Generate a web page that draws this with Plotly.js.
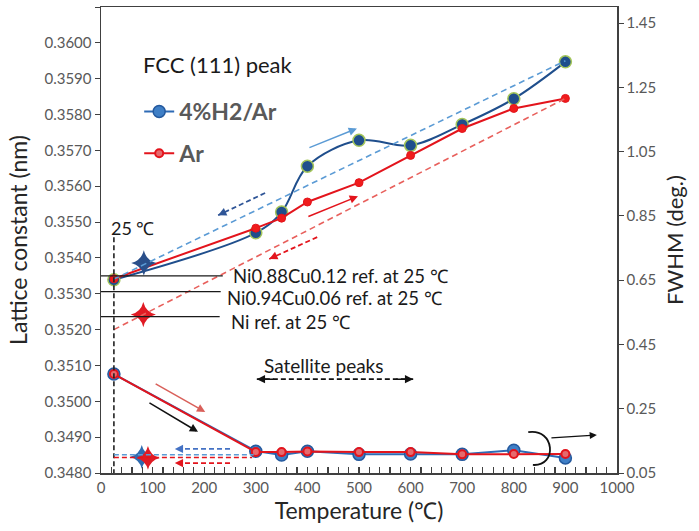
<!DOCTYPE html>
<html>
<head>
<meta charset="utf-8">
<script src="https://cdn.plot.ly/plotly-3.0.1.min.js"></script>
<style>html,body{margin:0;padding:0;background:#fff;}#chart{width:699px;height:531px;}</style>
</head>
<body>
<div id="chart"></div>
<script>
// ---- data ----
const temps = [25, 300, 350, 400, 500, 600, 700, 800, 900];
const latticeH2 = [0.35339, 0.35470, 0.35528, 0.35656, 0.35728, 0.35714, 0.35772, 0.35844, 0.35947];
const latticeAr = [0.35342, 0.35483, 0.35511, 0.35556, 0.35610, 0.35686, 0.35761, 0.35817, 0.35845];
const fwhmH2 = [0.358, 0.118, 0.106, 0.118, 0.108, 0.109, 0.108, 0.121, 0.097];
const fwhmAr = [0.358, 0.115, 0.115, 0.117, 0.115, 0.115, 0.108, 0.109, 0.109];

// reference lattice constants at 25 C
const refLabels = ["Ni0.88Cu0.12 ref. at 25 \u2103", "Ni0.94Cu0.06 ref. at 25 \u2103", "Ni ref. at 25 \u2103"];
const refValues = [0.35350, 0.35306, 0.35236];
const refLineEnd = [236, 232, 230];
const refTextX = [252, 240, 248];
const refTextY = [0.35350, 0.35289, 0.35222];

// star markers (lattice, left axis; FWHM, right axis)
const starLatX = [83, 82];
const starLatY = [0.35386, 0.35242];
const starFwX = [79, 91];
const starFwY = [0.100, 0.097];

// dashed trend lines (lattice): [x0, y0, x1, y1]
const trendH2 = [25, 0.35341, 900, 0.3595];
const trendAr = [25, 0.3520, 900, 0.35845];

// arrows: [tailX, tailY, headX, headY]
const arrH2Up = [401, 0.35706, 496, 0.35761];
const arrArUp = [399, 0.35514, 498, 0.35572];
const arrH2Down = [318, 0.35581, 227, 0.35519];
const arrArDown = [419, 0.35458, 326, 0.35397];
const arrFwRed = [103, 0.330, 202, 0.240];
const arrFwBlack = [91, 0.271, 188, 0.178];
const arrFwBlueBack = [250, 0.125, 143, 0.125];
const arrFwRedBack = [250, 0.081, 143, 0.081];
const lineFwBlue = [25, 0.107, 296, 0.107];
const lineFwRed = [25, 0.098, 293, 0.098];
const satArrow = [302, 0.342, 605, 0.342];
const satText = [432, 0.385];
const axisArrow = [870, 0.159, 961, 0.168];
const arcPts = [[828, 0.177], [880, 0.19], [885, 0.07], [837, 0.075]];
const vLine25 = [25, 0.35458, 25, 0.3480];
const label25 = [15, 0.35483];
const fccLabel = [77, 0.35939];

// ---- styles ----
const FONT = 'Lato, "Open Sans", Arial, sans-serif';
const traces = [
  {x: temps, y: fwhmH2, yaxis: 'y2', type: 'scatter', mode: 'lines+markers', name: '4%H2/Ar',
   legendgroup: 'a', line: {color: '#2e6bb5', width: 2},
   marker: {size: 12, color: '#3f7fc6', line: {color: '#24599e', width: 1.5}}},
  {x: temps, y: fwhmAr, yaxis: 'y2', type: 'scatter', mode: 'lines+markers', name: 'Ar',
   legendgroup: 'b', line: {color: '#e3141c', width: 2},
   marker: {size: 8, color: '#e66a6e', line: {color: '#e3141c', width: 2}}},
  {x: temps, y: latticeH2, type: 'scatter', mode: 'lines+markers', showlegend: false,
   line: {color: '#1f4e8c', width: 2, shape: 'spline', smoothing: 1},
   marker: {size: 12, color: '#1f4e8c', line: {color: '#a4c65a', width: 1.5}}},
  {x: temps, y: latticeAr, type: 'scatter', mode: 'lines+markers', showlegend: false,
   line: {color: '#e3141c', width: 2},
   marker: {size: 8, color: '#f01c1c', line: {color: '#e3141c', width: 1}}},
  {x: starLatX, y: starLatY, type: 'scatter', mode: 'markers', showlegend: false,
   marker: {symbol: 'star-diamond', size: 18, color: ['#2a4f8a', '#e01b24']}},
  {x: starFwX, y: starFwY, yaxis: 'y2', type: 'scatter', mode: 'markers', showlegend: false,
   marker: {symbol: 'star-diamond', size: 17, color: ['#2f6bb0', '#e01b24']}}
];

const shapes = [];
const annotations = [];
function seg(a, color, dash, yref, width) {
  shapes.push({type: 'line', xref: 'x', yref: yref, x0: a[0], y0: a[1], x1: a[2], y1: a[3],
    line: {color: color, width: width || 1.6, dash: dash || 'solid'}});
}
function arrowAnn(a, color, yref, width) {
  annotations.push({xref: 'x', yref: yref, axref: 'x', ayref: yref, x: a[2], y: a[3], ax: a[0], ay: a[1],
    text: '', showarrow: true, arrowhead: 2, arrowsize: 1.1, arrowwidth: width || 1.5, arrowcolor: color, standoff: 0});
}
function dashedArrow(a, color, yref, bothEnds) {
  seg(a, color, '5px,3px', yref, 1.8);
  const t = 0.12;
  arrowAnn([a[2] + t * (a[0] - a[2]), a[3] + t * (a[1] - a[3]), a[2], a[3]], color, yref, 1.5);
  if (bothEnds) arrowAnn([a[0] + t * (a[2] - a[0]), a[1] + t * (a[3] - a[1]), a[0], a[1]], color, yref, 1.5);
}

seg(trendH2, '#5b9bd5', '6px,4px', 'y', 1.6);
seg(trendAr, '#e8605c', '6px,4px', 'y', 1.6);
seg(vLine25, '#222222', '5px,3px', 'y', 1.6);
refValues.forEach((v, i) => {
  seg([0, v, refLineEnd[i], v], '#1a1a1a', 'solid', 'y', 1.3);
  annotations.push({xref: 'x', yref: 'y', x: refTextX[i], y: refTextY[i], xanchor: 'left', yanchor: 'middle',
    text: refLabels[i], showarrow: false, font: {family: FONT, size: 18.5, color: '#1a1a1a'}});
});
arrowAnn(arrH2Up, '#5b9bd5', 'y', 1.5);
arrowAnn(arrArUp, '#e3141c', 'y', 1.5);
dashedArrow(arrH2Down, '#2f5597', 'y');
dashedArrow(arrArDown, '#e3141c', 'y');
arrowAnn(arrFwRed, '#d9605a', 'y2', 1.5);
arrowAnn(arrFwBlack, '#111111', 'y2', 1.5);
seg(lineFwBlue, '#5b9bd5', '5px,3px', 'y2', 1.6);
seg(lineFwRed, '#e3141c', '5px,3px', 'y2', 1.6);
dashedArrow(arrFwBlueBack, '#4472c4', 'y2');
dashedArrow(arrFwRedBack, '#e3141c', 'y2');
dashedArrow(satArrow, '#111111', 'y2', true);
arrowAnn(axisArrow, '#111111', 'y2', 1.3);
shapes.push({type: 'path', xref: 'x', yref: 'y2',
  path: 'M ' + arcPts[0][0] + ',' + arcPts[0][1] + ' C ' + arcPts.slice(1).map(p => p[0] + ',' + p[1]).join(' '),
  line: {color: '#111111', width: 1.8}});

annotations.push({xref: 'x', yref: 'y2', x: satText[0], y: satText[1], text: 'Satellite peaks', showarrow: false,
  font: {family: FONT, size: 19, color: '#1a1a1a'}});
annotations.push({xref: 'x', yref: 'y', x: label25[0], y: label25[1], xanchor: 'left', text: '25 \u2103', showarrow: false,
  font: {family: FONT, size: 18, color: '#1a1a1a'}});
annotations.push({xref: 'x', yref: 'y', x: fccLabel[0], y: fccLabel[1], xanchor: 'left', text: 'FCC (111) peak', showarrow: false,
  font: {family: FONT, size: 22, color: '#1a1a1a'}});

const tickFont = {family: FONT, size: 15, color: '#595959'};
const layout = {
  width: 699, height: 531,
  margin: {l: 101, r: 82, t: 7, b: 58},
  paper_bgcolor: '#ffffff', plot_bgcolor: '#ffffff',
  font: {family: FONT},
  showlegend: true,
  legend: {x: 0.074, y: 0.822, xanchor: 'left', yanchor: 'top', bgcolor: 'rgba(0,0,0,0)',
    traceorder: 'grouped', tracegroupgap: 9, itemwidth: 30,
    font: {family: FONT, size: 23, color: '#595959', weight: 'bold'}},
  xaxis: {range: [0, 1000], dtick: 100, tick0: 0, showgrid: false, zeroline: false,
    showline: true, linecolor: '#404040', linewidth: 1.5, mirror: true,
    ticks: 'inside', ticklen: 6, tickcolor: '#404040', tickwidth: 1.2,
    minor: {dtick: 20, ticks: 'inside', ticklen: 6, tickcolor: '#404040', tickwidth: 1.2, showgrid: false},
    tickfont: tickFont,
    title: {text: 'Temperature (\u2103)', font: {family: FONT, size: 23, color: '#262626'}, standoff: 8}},
  yaxis: {range: [0.3480, 0.3610], dtick: 0.001, tick0: 0.348, tickformat: '.4f', showgrid: false, zeroline: false,
    showline: true, linecolor: '#404040', linewidth: 1.5,
    ticks: 'outside', ticklen: 5, tickcolor: '#404040', tickfont: tickFont,
    title: {text: 'Lattice constant (nm)', font: {family: FONT, size: 23, color: '#262626'}, standoff: 10}},
  yaxis2: {overlaying: 'y', side: 'right', range: [0.05, 1.5], tick0: 0.05, dtick: 0.2, tickformat: '.2f',
    showgrid: false, zeroline: false, showline: true, linecolor: '#404040', linewidth: 1.5,
    ticks: 'outside', ticklen: 5, tickcolor: '#404040', tickfont: tickFont,
    title: {text: 'FWHM (deg.)', font: {family: FONT, size: 22, color: '#262626'}, standoff: 12}},
  shapes: shapes,
  annotations: annotations
};
Plotly.newPlot('chart', traces, layout, {displayModeBar: false, staticPlot: true});
</script>
</body>
</html>
